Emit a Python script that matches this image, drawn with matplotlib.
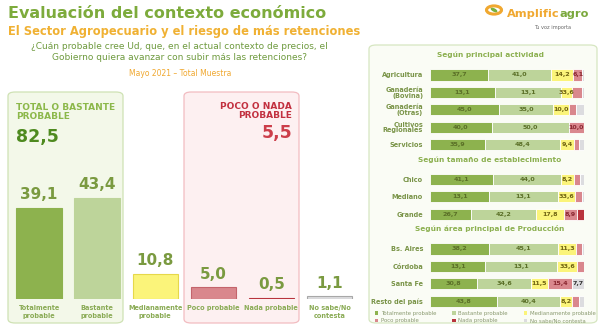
import matplotlib.pyplot as plt
from matplotlib.patches import FancyBboxPatch, Circle, Ellipse, Patch

# Datos - total muestra
categorias = ['Totalmente\nprobable', 'Bastante\nprobable', 'Medianamente\nprobable',
              'Poco probable', 'Nada probable', 'No sabe/No\ncontesta']
valores = [39.1, 43.4, 10.8, 5.0, 0.5, 1.1]

# Datos - apertura por segmentos
grupos = ['Según principal actividad', 'Según tamaño de establecimiento',
          'Según área principal de Producción']
filas_por_grupo = [5, 3, 4]
filas = ['Agricultura', 'Ganadería\n(Bovina)', 'Ganadería\n(Otras)', 'Cultivos\nRegionales',
         'Servicios', 'Chico', 'Mediano', 'Grande', 'Bs. Aires', 'Córdoba', 'Santa Fe',
         'Resto del país']
totalmente = [37.7, 42.0, 45.0, 40.0, 35.9, 41.1, 38.5, 26.7, 38.2, 36.0, 30.8, 43.8]
bastante = [41.0, 43.0, 35.0, 50.0, 48.4, 44.0, 44.5, 42.2, 45.1, 46.5, 34.6, 40.4]
medianamente = [14.2, 7.5, 10.0, 0.0, 9.4, 8.2, 11.0, 17.8, 11.3, 13.0, 11.5, 8.2]
poco = [6.1, 6.0, 4.5, 10.0, 3.2, 4.1, 5.0, 8.9, 4.4, 4.5, 15.4, 4.6]
nada = [0, 0, 0, 0, 0, 0, 0, 4.4, 0, 0, 0, 0]
no_sabe = [1.0, 1.5, 5.5, 0, 3.1, 2.6, 1.0, 0, 1.0, 0, 7.7, 3.0]

# etiquetas tal como aparecen impresas en el original
etq_totalmente = ['37,7', '13,1', '45,0', '40,0', '35,9', '41,1', '13,1', '26,7', '38,2', '13,1', '30,8', '43,8']
etq_bastante = ['41,0', '13,1', '35,0', '50,0', '48,4', '44,0', '13,1', '42,2', '45,1', '13,1', '34,6', '40,4']
etq_medianamente = ['14,2', '33,6', '10,0', '', '9,4', '8,2', '33,6', '17,8', '11,3', '33,6', '11,5', '8,2']
etq_poco = ['6,1', '', '', '10,0', '', '', '', '8,9', '', '', '15,4', '']
etq_nada = [''] * 12
etq_no_sabe = ['', '', '', '', '', '', '', '', '', '', '7,7', '']

series = ['Totalmente probable', 'Bastante probable', 'Medianamente probable',
          'Poco probable', 'Nada probable', 'No sabe/No contesta']

VERDE = '#8db24e'
VERDE_CLARO = '#bdd49a'
AMARILLO = '#fbf47a'
ROSA = '#d9878d'
ROJO = '#b8343d'
GRIS = '#dcdcdf'
colores = [VERDE, VERDE_CLARO, AMARILLO, ROSA, ROJO, GRIS]
bordes = [VERDE, VERDE_CLARO, '#e6d84a', '#c4646c', ROJO, '#a8a8a8']
color_txt = ['#5a6f27', '#5a6f27', '#6e6210', '#8a2630', '#ffffff', '#333333']

W, H = 600, 328
fig = plt.figure(figsize=(6, 3.28), dpi=100)
fig.patch.set_facecolor('white')


def fx(x):
    return x / W


def fy(y):
    return 1 - y / H


def caja(x0, y0, x1, y1, cara, borde):
    p = FancyBboxPatch((fx(x0), fy(y1)), fx(x1) - fx(x0), fy(y0) - fy(y1),
                       boxstyle='round,pad=0,rounding_size=0.012', transform=fig.transFigure,
                       facecolor=cara, edgecolor=borde, linewidth=0.9, zorder=-5)
    fig.patches.append(p)


# Titulos
fig.text(fx(8), fy(13), 'Evaluación del contexto económico', color='#7dab3c',
         fontsize=11.5, fontweight='bold', va='center', ha='left')
fig.text(fx(8), fy(31), 'El Sector Agropecuario y el riesgo de más retenciones',
         color='#f0b133', fontsize=8.3, fontweight='bold', va='center', ha='left')
fig.text(fx(179), fy(52), '¿Cuán probable cree Ud, que, en el actual contexto de precios, el\n'
         'Gobierno quiera avanzar con subir más las retenciones?', color='#6e9a3e',
         fontsize=6.5, ha='center', va='center', linespacing=1.35)
fig.text(fx(180), fy(73), 'Mayo 2021 – Total Muestra', color='#f0a830', fontsize=5.5,
         ha='center', va='center')

# Logo
fig.patches.append(Circle((fx(494), fy(10)), 0.0125, transform=fig.transFigure,
                          facecolor='white', edgecolor='#f0a830', linewidth=2.2))
fig.patches.append(Ellipse((fx(494), fy(10)), 0.008, 0.016, angle=35, transform=fig.transFigure,
                           facecolor='#78b040', edgecolor='none'))
t_amp = fig.text(fx(507), fy(14), 'Amplific', color='#f0a830', fontsize=8.2, fontweight='bold',
                 ha='left', va='center')
fig.canvas.draw()
x_fin = t_amp.get_window_extent().x1
fig.text(x_fin / W, fy(14), 'agro', color='#7aa83c', fontsize=8.2, fontweight='bold',
         ha='left', va='center')
fig.text(fx(553), fy(28), 'Tu voz importa', color='#666666', fontsize=3.6, ha='center', va='center')

# Cajas
caja(8, 92, 123, 323, '#f3f8e9', '#cfe2b4')
caja(184, 92, 299, 323, '#fdf0f1', '#f2bcc1')
caja(369, 45, 597, 323, '#fafcf5', '#d6e6c1')

fig.text(fx(16), fy(112), 'TOTAL O BASTANTE\nPROBABLE', color='#8cb84a', fontsize=6.5,
         fontweight='bold', ha='left', va='center', linespacing=1.1)
fig.text(fx(16), fy(137), f'{valores[0] + valores[1]:.1f}'.replace('.', ','), color='#4e8a1f',
         fontsize=12.5, fontweight='bold', ha='left', va='center')
fig.text(fx(292), fy(111), 'POCO O NADA\nPROBABLE', color='#c2303f', fontsize=6.5,
         fontweight='bold', ha='right', va='center', linespacing=1.0)
fig.text(fx(292), fy(133), f'{valores[3] + valores[4]:.1f}'.replace('.', ','), color='#cc3e4a',
         fontsize=12.5, fontweight='bold', ha='right', va='center')

# Grafico de barras total
ax1 = fig.add_axes([fx(10), fy(299), fx(348.5), 116.5 / H])
ax1.set_facecolor('none')
x = range(len(valores))
ax1.bar(x, valores, width=0.78, color=colores, edgecolor=bordes, linewidth=0.8)
for i, v in enumerate(valores):
    ax1.annotate(f'{v:.1f}'.replace('.', ','), (i, v), xytext=(0, 9.5), textcoords='offset points',
                 ha='center', va='center', fontsize=11, fontweight='bold', color='#7a9a40')
ax1.set_xlim(-0.5, len(valores) - 0.5)
ax1.set_ylim(0, 50)
ax1.set_xticks(list(x))
ax1.set_xticklabels(categorias, fontsize=4.7, fontweight='bold', color='#8aab55', linespacing=1.3)
ax1.tick_params(axis='x', length=0, pad=4.5)
ax1.set_yticks([])
for s in ax1.spines.values():
    s.set_visible(False)

# Grafico apilado por segmento
pos = []
pos_grupo = []
k = 0
for n in filas_por_grupo:
    pos_grupo.append(k - 1)
    pos.extend(range(k, k + n))
    k += n + 1

ax2 = fig.add_axes([fx(430), fy(309.9), fx(154), 261 / H])
ax2.set_facecolor('none')
datos = [totalmente, bastante, medianamente, poco, nada, no_sabe]
etiquetas = [etq_totalmente, etq_bastante, etq_medianamente, etq_poco, etq_nada, etq_no_sabe]
izq = [0.0] * len(filas)
for j, serie in enumerate(datos):
    ax2.barh(pos, serie, left=izq, height=0.64, color=colores[j], edgecolor='white',
             linewidth=0.6, label=series[j])
    for i, v in enumerate(serie):
        if etiquetas[j][i]:
            ax2.text(izq[i] + v / 2, pos[i], etiquetas[j][i], ha='center', va='center',
                     fontsize=4.6, fontweight='bold', color=color_txt[j])
    izq = [a + b for a, b in zip(izq, serie)]

for g, yg in zip(grupos, pos_grupo):
    ax2.text(39, yg - 0.15, g, ha='center', va='center', fontsize=5.3, fontweight='bold',
             color='#8cb050')

ax2.set_xlim(0, 100)
ax2.set_ylim(pos[-1] + 0.5, -1.5)
ax2.set_yticks(pos)
ax2.set_yticklabels(filas, fontsize=4.7, fontweight='bold', color='#7a9448', linespacing=0.95)
ax2.tick_params(axis='y', length=0, pad=5)
ax2.set_xticks([])
for s in ax2.spines.values():
    s.set_visible(False)

orden = [0, 3, 1, 4, 2, 5]
handles = [Patch(facecolor=colores[i], label=series[i]) for i in orden]
fig.legend(handles=handles, ncol=3, loc='upper left', bbox_to_anchor=(fx(372), fy(308)),
           frameon=False, fontsize=3.9, handlelength=0.6, handleheight=0.6, handletextpad=0.5,
           columnspacing=3.0, labelspacing=0.5, labelcolor='#8a9a70', borderpad=0)

fig.savefig('out.png', dpi=100)
